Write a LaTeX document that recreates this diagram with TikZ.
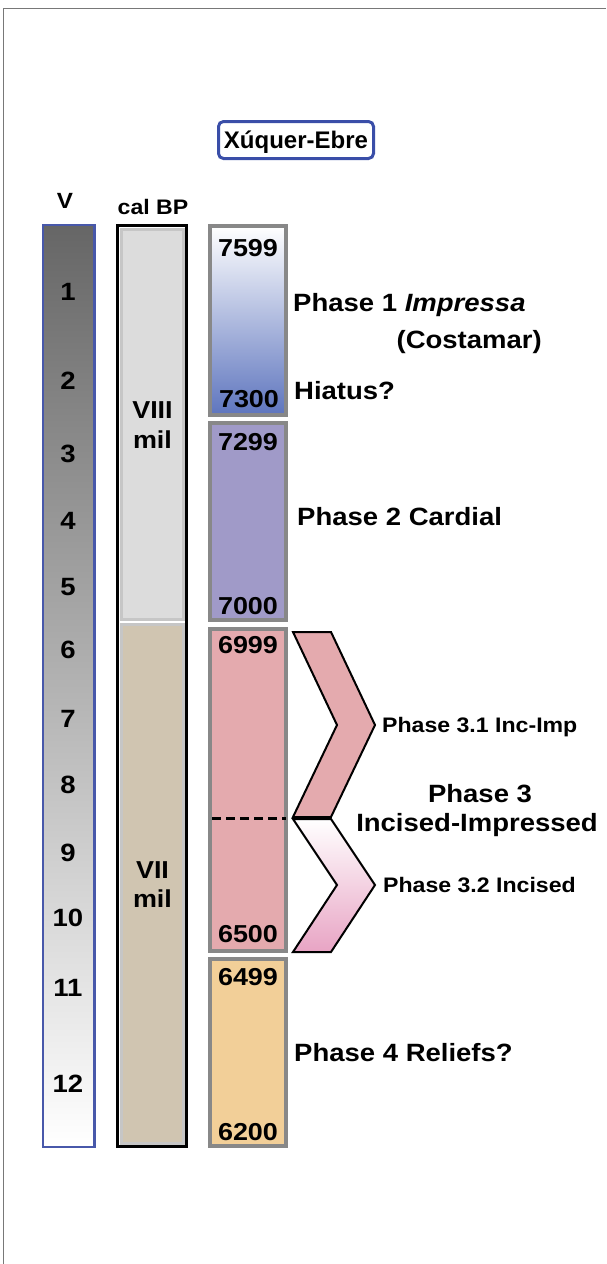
\documentclass[tikz,border=0pt]{standalone}
\usepackage{fontspec}
\setmainfont{Liberation Sans}[FakeStretch=1.1]
\newfontfamily\titlefamily{Liberation Sans}
\definecolor{framegray}{RGB}{120,120,120}
\definecolor{vblue}{RGB}{72,88,170}
\definecolor{titleblue}{RGB}{58,78,168}
\definecolor{boxgray}{RGB}{136,136,136}
\definecolor{innergray}{RGB}{198,198,198}
\definecolor{eightfill}{RGB}{220,220,220}
\definecolor{sevenfill}{RGB}{208,197,177}
\definecolor{pone}{RGB}{94,117,190}
\definecolor{ponemid}{RGB}{122,139,206}
\definecolor{ptwo}{RGB}{160,154,200}
\definecolor{pthree}{RGB}{228,170,174}
\definecolor{pthreetwo}{RGB}{232,164,196}
\definecolor{pfour}{RGB}{242,207,152}
\definecolor{vtop}{RGB}{102,102,102}
\definecolor{vmid}{RGB}{168,168,168}
\begin{document}
\begin{tikzpicture}[x=1pt,y=-1pt,
  lbl/.style={font=\fontsize{25}{30}\selectfont\bfseries, inner sep=0pt, text height=17.9pt, text depth=0pt},
  sublbl/.style={font=\fontsize{21}{25}\selectfont\bfseries, inner sep=0pt, text height=15pt, text depth=0pt, anchor=west},
  numlbl/.style={font=\fontsize{24.5}{28}\selectfont\bfseries, inner sep=0pt, text height=17.5pt, text depth=0pt},
  vnum/.style={font=\fontsize{25}{28}\selectfont\bfseries, inner sep=0pt, text height=17.9pt, text depth=0pt},
  millbl/.style={font=\fontsize{24.5}{28}\selectfont\bfseries, inner sep=0pt, anchor=base},
  headlbl/.style={font=\fontsize{21}{24}\selectfont\bfseries, inner sep=0pt, text height=15pt, text depth=0pt},
  phasebox/.style={draw=boxgray, line width=3.5pt},
  chevron/.style={draw=black, line width=2pt, line join=miter}
]
\useasboundingbox (0,0) rectangle (606,1264);
% frame
\draw[framegray, line width=1.8pt] (3.5,1264) -- (3.5,8.5) -- (606,8.5);

% title
\node[font=\titlefamily\fontsize{24}{28}\selectfont\bfseries, inner sep=0pt, text height=17.2pt, text depth=0pt,
      draw=titleblue, line width=3pt, rounded corners=5pt, minimum width=155pt, minimum height=37pt] (title) at (296,140) {Xúquer-Ebre};

% headers
\node[headlbl, font=\fontsize{22}{26}\selectfont\bfseries, text height=15.8pt] (vhead) at (65,201) {V};
\node[headlbl] (calbp) at (153,207) {cal BP};

% V column
\shade[top color=vtop, middle color=vmid, bottom color=white] (43.2,225.2) rectangle (94.5,1146.8);
\draw[vblue, line width=2.5pt] (43.2,225.2) rectangle (94.5,1146.8);
\foreach \n/\y in {1/292,2/381,3/454,4/521,5/587,6/650,7/719,8/785,9/853,10/918,11/988,12/1084}{
  \node[vnum] (v\n) at (68,\y) {\n};
}

% cal BP column
\fill[white] (117.5,225.5) rectangle (186.5,1146.5);
\draw[innergray, fill=eightfill, line width=3pt] (121,229) rectangle (183,619.5);
\draw[innergray, fill=sevenfill, line width=3pt] (121,624.5) rectangle (183,1143);
\draw[black, line width=3pt] (117.5,225.5) rectangle (186.5,1146.5);
\node[millbl] (viii) at (152.5,418) {VIII};
\node[millbl] (viiimil) at (152.5,448) {mil};
\node[millbl] (vii) at (152.5,878) {VII};
\node[millbl] (viimil) at (152.5,907) {mil};

% phase boxes
\shade[top color=white, middle color=ponemid, bottom color=pone] (210,226) rectangle (286,415);
\draw[phasebox] (210,226) rectangle (286,415);
\draw[phasebox, fill=ptwo] (210,423) rectangle (286,620);
\draw[phasebox, fill=pthree] (210,629) rectangle (286,951);
\draw[phasebox, fill=pfour] (210,959) rectangle (286,1146);
\draw[black, line width=3pt, dash pattern=on 9pt off 5pt] (212,818) -- (286,818);

\node[numlbl] (n7599) at (248,248) {7599};
\node[numlbl] (n7300) at (249,399) {7300};
\node[numlbl] (n7299) at (248,442) {7299};
\node[numlbl] (n7000) at (248,606) {7000};
\node[numlbl] (n6999) at (248,645) {6999};
\node[numlbl] (n6500) at (248,934) {6500};
\node[numlbl] (n6499) at (248,977) {6499};
\node[numlbl] (n6200) at (248,1132) {6200};

% chevrons
\path[chevron, fill=pthree] (293,632) -- (331,632) -- (375,725) -- (331,817) -- (293,817) -- (337,725) -- cycle;
\path[chevron, top color=white, bottom color=pthreetwo] (293,819) -- (331,819) -- (375,885) -- (331,952) -- (293,952) -- (337,885) -- cycle;
\draw[black, line width=3.5pt] (293,818) -- (331,818);

% labels
\node[lbl, anchor=west] (p1) at (293,303) {Phase 1 \itshape Impressa};
\node[lbl, anchor=east] (costamar) at (542,340) {(Costamar)};
\node[lbl, anchor=west] (hiatus) at (294,391) {Hiatus?};
\node[lbl, anchor=west] (p2) at (297,517) {Phase 2 Cardial};
\node[sublbl] (p31) at (382,725) {Phase 3.1 Inc-Imp};
\node[lbl] (p3a) at (480,794) {Phase 3};
\node[lbl] (p3b) at (477,822.5) {Incised-Impressed};
\node[sublbl] (p32) at (383,885) {Phase 3.2 Incised};
\node[lbl, anchor=west] (p4) at (294,1053) {Phase 4 Reliefs?};
\end{tikzpicture}
\end{document}
